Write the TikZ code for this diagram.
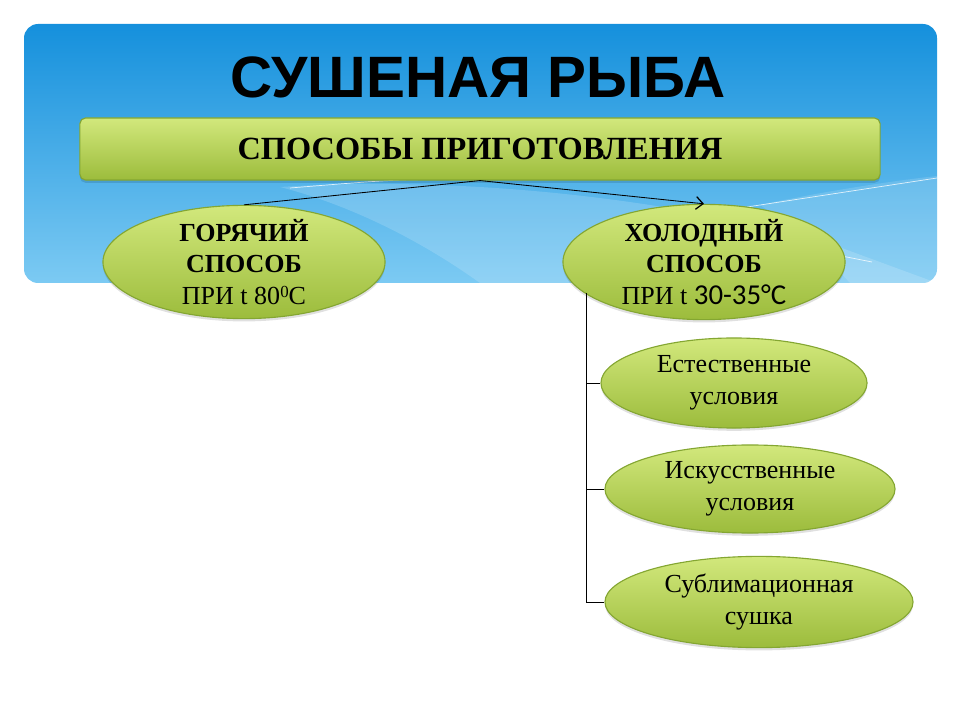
\documentclass[tikz,border=0pt]{standalone}
\usepackage{fontspec}
\setmainfont{Liberation Serif}
\newfontfamily\headfont{Liberation Sans}
\newfontfamily\degfont{Carlito}
\usetikzlibrary{arrows,arrows.meta,shapes.geometric,shadows}
\definecolor{skytop}{HTML}{1590DC}
\definecolor{skybot}{HTML}{7CCAF3}
\definecolor{leaftop}{HTML}{D2E87C}
\definecolor{leafbot}{HTML}{9CBC3C}
\definecolor{leafrim}{HTML}{84A632}

\begin{document}
\begin{tikzpicture}[x=0.025cm,y=-0.025cm,
   oval/.style={ellipse, draw=leafrim, line width=0.8pt, top color=leaftop, bottom color=leafbot,
      inner sep=-1cm, align=center, font=\fontsize{18.5}{22.5}\selectfont,
      drop shadow={shadow xshift=0pt, shadow yshift=-2pt, opacity=0.12, fill=black}},
   bar/.style={rectangle, rounded corners=4pt, draw=leafrim, line width=0.8pt, top color=leaftop,
      bottom color=leafbot, minimum width=20cm, minimum height=1.55cm,
      font=\fontsize{23}{26}\selectfont\bfseries,
      drop shadow={shadow xshift=0pt, shadow yshift=-2pt, opacity=0.12, fill=black}},
   link/.style={black, line width=0.6pt}]
      \useasboundingbox (0,0) rectangle (960,720);
      \shade [top color=skytop, bottom color=skybot, rounded corners=10pt] (24,24) rectangle (937,283);
      \begin{scope}
         \clip [rounded corners=10pt] (24,24) rectangle (937,283);
         \fill [white, opacity=0.16] (280,187) .. controls (450,176) and (650,195) .. (820,240) -- (937,283) -- (480,283) .. controls (420,240) and (350,205) .. cycle;
         \fill [white, opacity=0.14] (760,205) .. controls (830,190) and (900,180) .. (937,176) -- (937,283) -- (850,283) .. controls (820,250) and (790,225) .. cycle;
         \draw [white, opacity=0.8, line width=0.5pt] (290,188) .. controls (400,179) .. (480,180);
         \draw [white, opacity=0.8, line width=0.5pt] (747,207) -- (937,178);
         \draw [white, opacity=0.8, line width=0.5pt] (700,228) -- (872,262);
      \end{scope}
      \node (title) at (478,77) {\headfont\fontsize{41.5}{48}\selectfont\bfseries СУШЕНАЯ РЫБА};
      \node [bar] (methods) at (480,149) {СПОСОБЫ ПРИГОТОВЛЕНИЯ};
      \node [oval, minimum width=7.05cm, minimum height=2.83cm] (hot) at (244,262)
         {\textbf{ГОРЯЧИЙ}\\\textbf{СПОСОБ}\\ПРИ t 80{\fontsize{12}{12}\selectfont\raisebox{5pt}{0}}C};
      \node [oval, minimum width=7.05cm, minimum height=2.88cm] (cold) at (704,262)
         {\textbf{ХОЛОДНЫЙ}\\\textbf{СПОСОБ}\\ПРИ t {\degfont\fontsize{20.5}{22}\selectfont 30-35°C}};
      \node [oval, minimum width=6.65cm, minimum height=2.25cm] (nat) at (734,383) {Естественные\\условия};
      \node [oval, minimum width=7.25cm, minimum height=2.2cm] (art) at (750,489) {Искусственные\\условия};
      \node [oval, minimum width=7.7cm, minimum height=2.28cm] (subl) at (759,602) {Сублимационная\\сушка};
      \draw [link] (methods.south) -- (hot.north);
      \draw [link, -{Straight Barb[length=5pt, width=9pt, line width=0.9pt]}] (methods.south) -- (cold.north);
      \coordinate (trunk) at (586,293);
      \draw [link] (trunk) |- (subl.west);
      \draw [link] (trunk |- nat.west) -- (nat.west);
      \draw [link] (trunk |- art.west) -- (art.west);
   \end{tikzpicture}
\end{document}
